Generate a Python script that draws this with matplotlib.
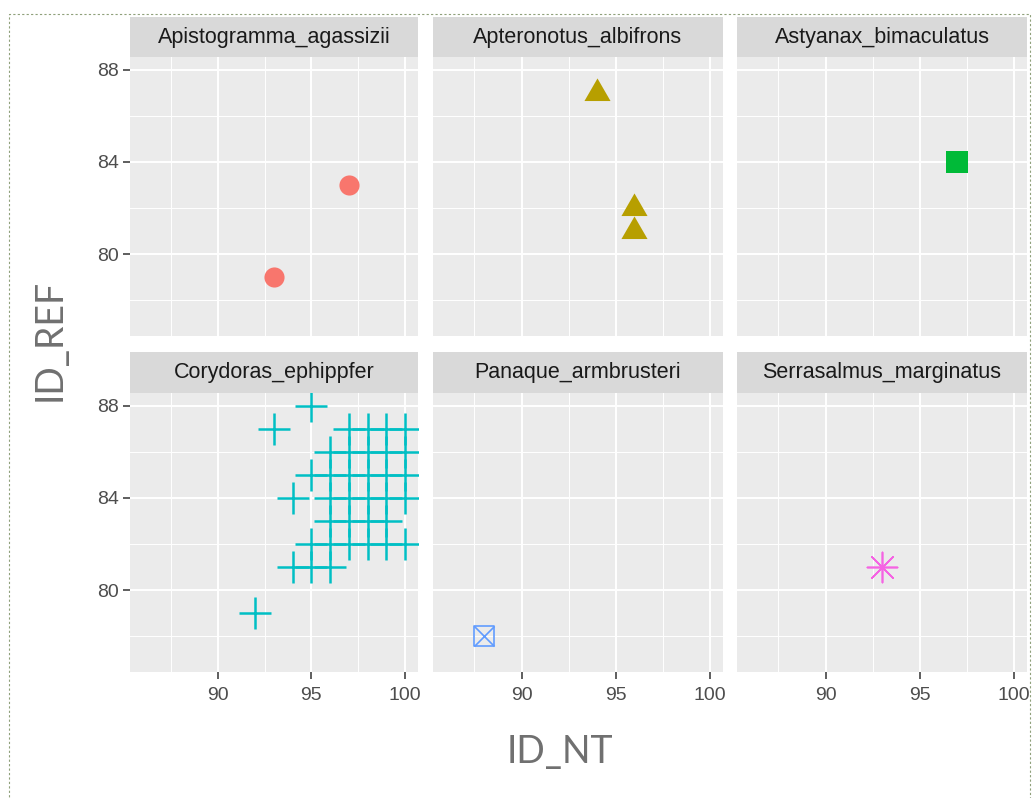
import matplotlib
matplotlib.use("Agg")
import matplotlib.pyplot as plt
from matplotlib.patches import Rectangle

# facet data (ID_NT on x, ID_REF on y)
species = ["Apistogramma_agassizii", "Apteronotus_albifrons", "Astyanax_bimaculatus",
           "Corydoras_ephippfer", "Panaque_armbrusteri", "Serrasalmus_marginatus"]
colors = ["#F8766D", "#B79F00", "#00BA38", "#00BFC4", "#619CFF", "#F564E3"]

apisto_x = [93, 97]
apisto_y = [79, 83]
apter_x = [94, 96, 96]
apter_y = [87, 82, 81]
astya_x = [97]
astya_y = [84]
cory_x = [95,
          93, 97, 98, 99, 100,
          96, 97, 98, 99, 100,
          95, 96, 97, 98, 99, 100,
          94, 96, 97, 98, 99, 100,
          96, 97, 98, 99,
          95, 96, 97, 98, 99, 100,
          94, 95, 96,
          92]
cory_y = [88,
          87, 87, 87, 87, 87,
          86, 86, 86, 86, 86,
          85, 85, 85, 85, 85, 85,
          84, 84, 84, 84, 84, 84,
          83, 83, 83, 83,
          82, 82, 82, 82, 82, 82,
          81, 81, 81,
          79]
pana_x = [88]
pana_y = [78]
serra_x = [93]
serra_y = [81]

xs = [apisto_x, apter_x, astya_x, cory_x, pana_x, serra_x]
ys = [apisto_y, apter_y, astya_y, cory_y, pana_y, serra_y]

x_ticks = [90, 95, 100]
y_ticks = [80, 84, 88]

plt.rcParams["font.family"] = ["Liberation Sans", "DejaVu Sans"]

W, H = 1032, 798
fig = plt.figure(figsize=(W / 100, H / 100), dpi=100)
fig.patch.set_facecolor("white")


def box(x0, y0, x1, y1):
    return [x0 / W, 1 - y1 / H, (x1 - x0) / W, (y1 - y0) / H]


cols = [(130, 418), (433, 723), (737, 1027)]
panel_rows = [(57, 336), (393, 672)]
strip_rows = [(17, 57), (352, 393)]

tri = [(0, 0.577), (-0.5, -0.289), (0.5, -0.289)]

for i, name in enumerate(species):
    r, c = divmod(i, 3)
    x0, x1 = cols[c]
    ax = fig.add_axes(box(x0, panel_rows[r][0], x1, panel_rows[r][1]))
    ax.set_facecolor("#EBEBEB")
    ax.set_xlim(85.3, 100.7)
    ax.set_ylim(76.45, 88.55)
    ax.set_xticks(x_ticks)
    ax.set_yticks(y_ticks)
    ax.set_xticks([87.5, 92.5, 97.5], minor=True)
    ax.set_yticks([78, 82, 86], minor=True)
    ax.grid(which="major", color="white", lw=1.4)
    ax.grid(which="minor", color="white", lw=0.7)
    ax.set_axisbelow(True)
    for s in ax.spines.values():
        s.set_visible(False)
    ax.tick_params(which="major", length=5, width=1.1, color="#333333",
                   labelsize=14, labelcolor="#4D4D4D", pad=3)
    ax.tick_params(which="minor", length=0)
    ax.tick_params(axis="x", pad=6)
    if r == 0:
        ax.tick_params(axis="x", length=0, labelbottom=False)
    if c != 0:
        ax.tick_params(axis="y", length=0, labelleft=False)

    col = colors[i]
    if i == 0:
        ax.scatter(xs[i], ys[i], s=210, marker="o", color=col, linewidths=0)
    elif i == 1:
        ax.scatter(xs[i], ys[i], s=470, marker=tri, color=col, linewidths=0)
    elif i == 2:
        ax.scatter(xs[i], ys[i], s=230, marker="s", color=col, linewidths=0)
    elif i == 3:
        ax.scatter(xs[i], ys[i], s=560, marker="+", color=col, linewidths=1.8)
    elif i == 4:
        ax.scatter(xs[i], ys[i], s=210, marker="s", facecolors="none",
                   edgecolors=col, linewidths=1.2)
        ax.scatter(xs[i], ys[i], s=210, marker="x", color=col, linewidths=1.2)
    else:
        ax.scatter(xs[i], ys[i], s=470, marker=(8, 2, 0), color=col, linewidths=1.2)

    # facet strip
    sx = fig.add_axes(box(x0, strip_rows[r][0], x1, strip_rows[r][1]))
    sx.set_facecolor("#D9D9D9")
    sx.set_xticks([])
    sx.set_yticks([])
    for s in sx.spines.values():
        s.set_visible(False)
    sx.text(0.5, 0.5, name, ha="center", va="center", fontsize=15.5,
            color="#1A1A1A", transform=sx.transAxes)

# axis titles
fig.text(560 / W, 1 - 752 / H, "ID_NT", ha="center", va="center", fontsize=27,
         family="Lato", color="#707070")
fig.text(50 / W, 1 - 340 / H, "ID_REF", ha="center", va="center", fontsize=27,
         family="Lato", color="#707070", rotation=90)

# dotted screenshot frame
fig.patches.append(Rectangle((9 / W, -0.01), (1030 - 9) / W, 1.01 - 14 / H,
                             transform=fig.transFigure, fill=False,
                             ec="#8FA07A", lw=0.8, ls=(0, (2, 2))))

fig.savefig("out.png", dpi=100)
